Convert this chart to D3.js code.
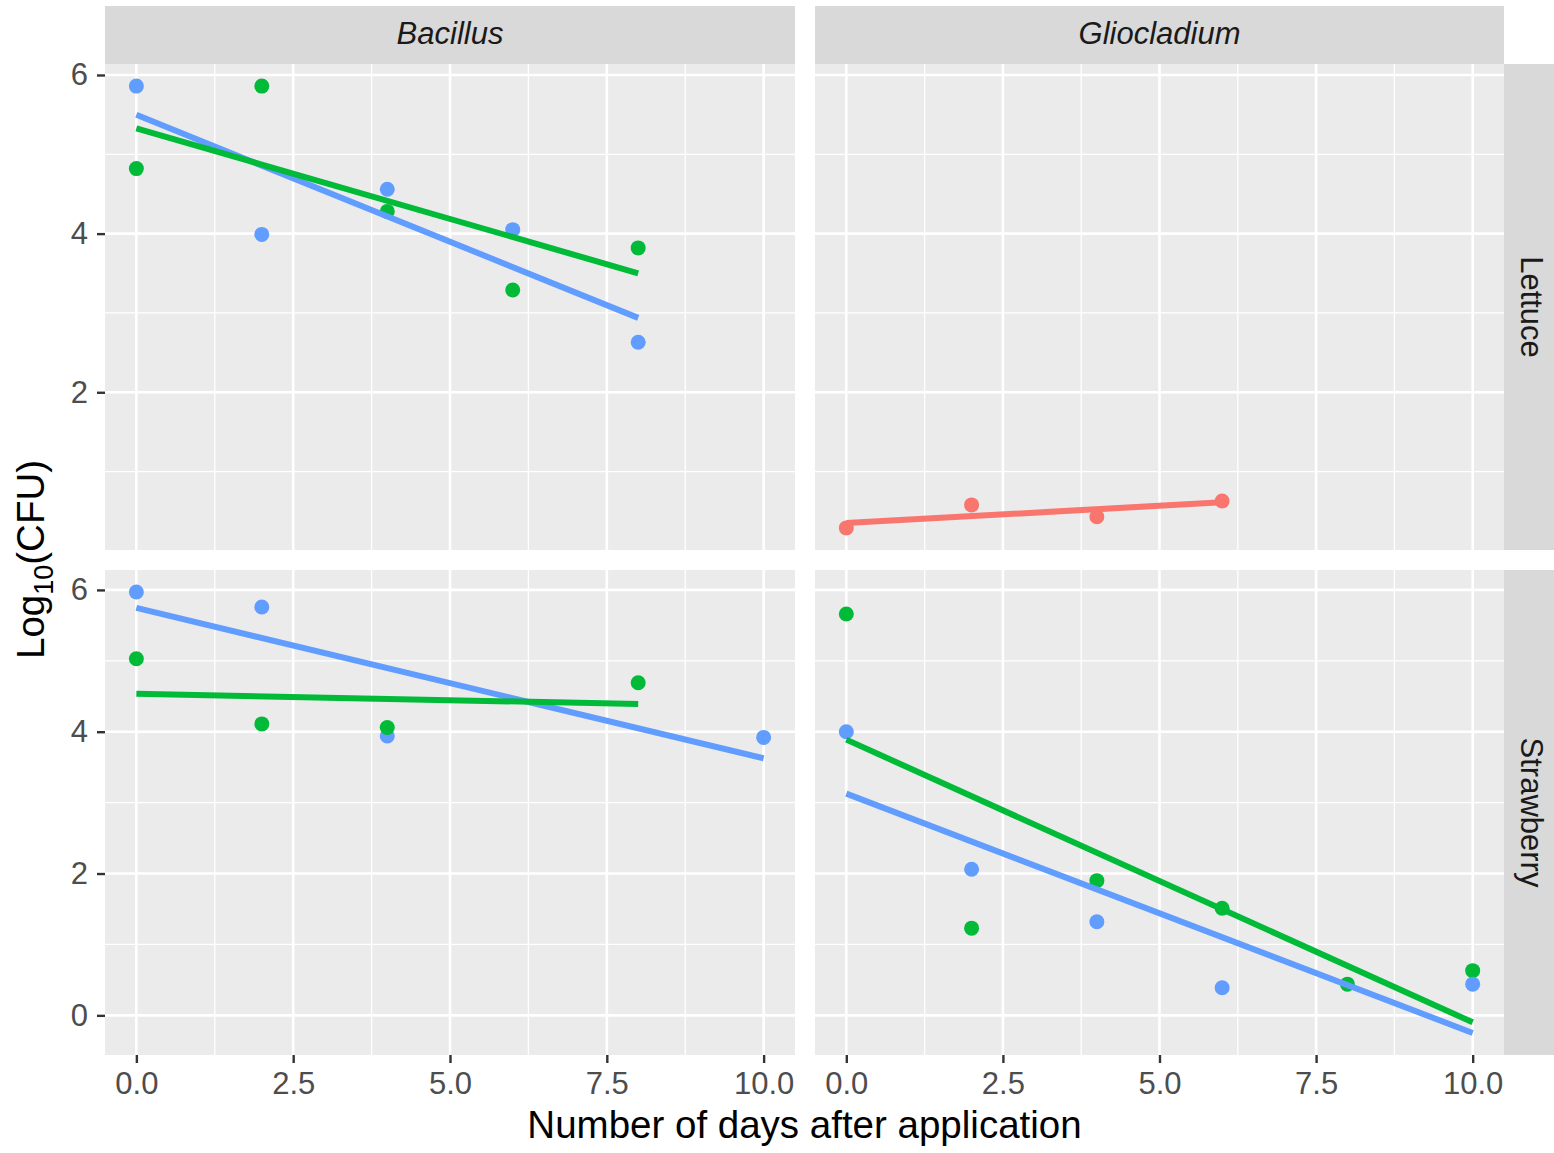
<!DOCTYPE html>
<html>
<head>
<meta charset="utf-8">
<script src="https://cdn.jsdelivr.net/npm/d3@7"></script>
<style>
  body { margin: 0; background: #fff; }
  svg text { font-family: "Liberation Sans", Arial, sans-serif; }
</style>
</head>
<body>
<div id="chart"></div>
<script>
// facets
const agents = ["Bacillus", "Gliocladium"];
const crops = ["Lettuce", "Strawberry"];
const groupColors = { red: "#F8766D", green: "#00BA38", blue: "#619CFF" };

// x ticks / y ticks per row
const xTicks = [0, 2.5, 5, 7.5, 10];
const xMinor = [1.25, 3.75, 6.25, 8.75];
const yTicksRow = { Lettuce: [2, 4, 6], Strawberry: [0, 2, 4, 6] };
const yMinorRow = { Lettuce: [1, 3, 5], Strawberry: [1, 3, 5] };

// series values (days, log10 CFU)
const bacLetBlueDays = [0, 2, 4, 6, 8];
const bacLetBlueCfu  = [5.86, 3.99, 4.56, 4.05, 2.63];
const bacLetGreenDays = [0, 2, 4, 6, 8];
const bacLetGreenCfu  = [4.82, 5.86, 4.28, 3.29, 3.82];
const gliLetRedDays = [0, 2, 4, 6];
const gliLetRedCfu  = [0.29, 0.58, 0.43, 0.63];
const bacStrBlueDays = [0, 2, 4, 10];
const bacStrBlueCfu  = [5.97, 5.76, 3.94, 3.92];
const bacStrGreenDays = [0, 2, 4, 8];
const bacStrGreenCfu  = [5.03, 4.11, 4.06, 4.69];
const gliStrGreenDays = [0, 2, 4, 6, 8, 10];
const gliStrGreenCfu  = [5.66, 1.23, 1.90, 1.51, 0.44, 0.63];
const gliStrBlueDays = [0, 2, 4, 6, 10];
const gliStrBlueCfu  = [4.00, 2.06, 1.32, 0.39, 0.44];

const series = [
  { agent: "Bacillus", crop: "Lettuce", group: "blue", x: bacLetBlueDays, y: bacLetBlueCfu },
  { agent: "Bacillus", crop: "Lettuce", group: "green", x: bacLetGreenDays, y: bacLetGreenCfu },
  { agent: "Gliocladium", crop: "Lettuce", group: "red", x: gliLetRedDays, y: gliLetRedCfu },
  { agent: "Bacillus", crop: "Strawberry", group: "blue", x: bacStrBlueDays, y: bacStrBlueCfu },
  { agent: "Bacillus", crop: "Strawberry", group: "green", x: bacStrGreenDays, y: bacStrGreenCfu },
  { agent: "Gliocladium", crop: "Strawberry", group: "green", x: gliStrGreenDays, y: gliStrGreenCfu },
  { agent: "Gliocladium", crop: "Strawberry", group: "blue", x: gliStrBlueDays, y: gliStrBlueCfu }
];

// least squares fit, like geom_smooth(method = "lm")
function lmFit(xs, ys) {
  const mx = d3.mean(xs), my = d3.mean(ys);
  let sxy = 0, sxx = 0;
  xs.forEach((x, i) => { sxy += (x - mx) * (ys[i] - my); sxx += (x - mx) * (x - mx); });
  const b = sxy / sxx, a = my - b * mx;
  const [x0, x1] = d3.extent(xs);
  return [[x0, a + b * x0], [x1, a + b * x1]];
}
series.forEach(s => s.fit = lmFit(s.x, s.y));

const W = 1554, H = 1153;
const panelX = { Bacillus: [105, 795], Gliocladium: [815, 1504] };
const panelY = { Lettuce: [64, 550], Strawberry: [570, 1055] };
const stripTop = 6;
const smallFont = 31, bigFont = 38.5;

const svg = d3.select("#chart").append("svg")
  .attr("width", W).attr("height", H);

const x = {};
agents.forEach(a => {
  x[a] = d3.scaleLinear().domain([-0.5, 10.5]).range(panelX[a]);
});

// free y per row, with ggplot's 5% expansion
const y = {};
crops.forEach(c => {
  const vals = [];
  series.filter(s => s.crop === c).forEach(s => {
    vals.push(...s.y, s.fit[0][1], s.fit[1][1]);
  });
  const [lo, hi] = d3.extent(vals);
  const e = (hi - lo) * 0.05;
  y[c] = d3.scaleLinear().domain([lo - e, hi + e]).range([panelY[c][1], panelY[c][0]]);
});

const line = d3.line();

agents.forEach(a => {
  crops.forEach(c => {
    const [px0, px1] = panelX[a], [py0, py1] = panelY[c];
    const g = svg.append("g");
    g.append("rect").attr("x", px0).attr("y", py0)
      .attr("width", px1 - px0).attr("height", py1 - py0).attr("fill", "#EBEBEB");
    // minor grid
    xMinor.forEach(v => g.append("line")
      .attr("x1", x[a](v)).attr("x2", x[a](v)).attr("y1", py0).attr("y2", py1)
      .attr("stroke", "#fff").attr("stroke-width", 1.3));
    yMinorRow[c].forEach(v => g.append("line")
      .attr("x1", px0).attr("x2", px1).attr("y1", y[c](v)).attr("y2", y[c](v))
      .attr("stroke", "#fff").attr("stroke-width", 1.3));
    // major grid
    xTicks.forEach(v => g.append("line")
      .attr("x1", x[a](v)).attr("x2", x[a](v)).attr("y1", py0).attr("y2", py1)
      .attr("stroke", "#fff").attr("stroke-width", 2.6));
    yTicksRow[c].forEach(v => g.append("line")
      .attr("x1", px0).attr("x2", px1).attr("y1", y[c](v)).attr("y2", y[c](v))
      .attr("stroke", "#fff").attr("stroke-width", 2.6));

    const ss = series.filter(s => s.agent === a && s.crop === c);
    ss.forEach(s => {
      g.selectAll(null).data(s.x).enter().append("circle")
        .attr("cx", d => x[a](d))
        .attr("cy", (d, i) => y[c](s.y[i]))
        .attr("r", 7.5)
        .attr("fill", groupColors[s.group]);
    });
    ss.forEach(s => {
      g.append("path")
        .attr("d", line(s.fit.map(p => [x[a](p[0]), y[c](p[1])])))
        .attr("stroke", groupColors[s.group])
        .attr("stroke-width", 6)
        .attr("fill", "none");
    });
  });
});

// top strips
agents.forEach(a => {
  const [px0, px1] = panelX[a];
  svg.append("rect").attr("x", px0).attr("y", stripTop)
    .attr("width", px1 - px0).attr("height", panelY.Lettuce[0] - stripTop).attr("fill", "#D9D9D9");
  svg.append("text").attr("x", (px0 + px1) / 2).attr("y", (stripTop + panelY.Lettuce[0]) / 2 - 2)
    .attr("text-anchor", "middle").attr("dominant-baseline", "central")
    .attr("font-size", smallFont).attr("font-style", "italic").attr("fill", "#1A1A1A")
    .text(a);
});

// right strips
crops.forEach(c => {
  const [py0, py1] = panelY[c];
  svg.append("rect").attr("x", 1504).attr("y", py0)
    .attr("width", W - 1504).attr("height", py1 - py0).attr("fill", "#D9D9D9");
  svg.append("text")
    .attr("transform", `translate(${(1504 + W) / 2 + 2},${(py0 + py1) / 2}) rotate(90)`)
    .attr("text-anchor", "middle").attr("dominant-baseline", "central")
    .attr("font-size", smallFont).attr("fill", "#1A1A1A")
    .text(c);
});

// axes
function styleAxis(sel) {
  sel.select(".domain").remove();
  sel.selectAll(".tick line").attr("stroke", "#333").attr("stroke-width", 2.4);
  sel.selectAll(".tick text").attr("fill", "#4D4D4D").attr("font-size", smallFont)
    .attr("font-family", "Liberation Sans, Arial, sans-serif");
}
crops.forEach(c => {
  svg.append("g").attr("transform", `translate(${panelX.Bacillus[0]},0)`)
    .call(d3.axisLeft(y[c]).tickValues(yTicksRow[c]).tickSize(8).tickPadding(9)
      .tickFormat(d3.format("d")))
    .call(styleAxis);
});
agents.forEach(a => {
  svg.append("g").attr("transform", `translate(0,${panelY.Strawberry[1]})`)
    .call(d3.axisBottom(x[a]).tickValues(xTicks).tickSize(8).tickPadding(9)
      .tickFormat(d3.format(".1f")))
    .call(styleAxis);
});

// axis titles
svg.append("text")
  .attr("x", (panelX.Bacillus[0] + panelX.Gliocladium[1]) / 2).attr("y", 1138)
  .attr("text-anchor", "middle").attr("font-size", bigFont).attr("fill", "#000")
  .text("Number of days after application");

const yt = svg.append("text")
  .attr("transform", `translate(44,${(panelY.Lettuce[0] + panelY.Strawberry[1]) / 2}) rotate(-90)`)
  .attr("text-anchor", "middle").attr("font-size", bigFont).attr("fill", "#000");
yt.append("tspan").text("Log");
yt.append("tspan").attr("font-size", 27).attr("dy", 9).text("10");
yt.append("tspan").attr("dy", -9).text("(CFU)");
</script>
</body>
</html>
